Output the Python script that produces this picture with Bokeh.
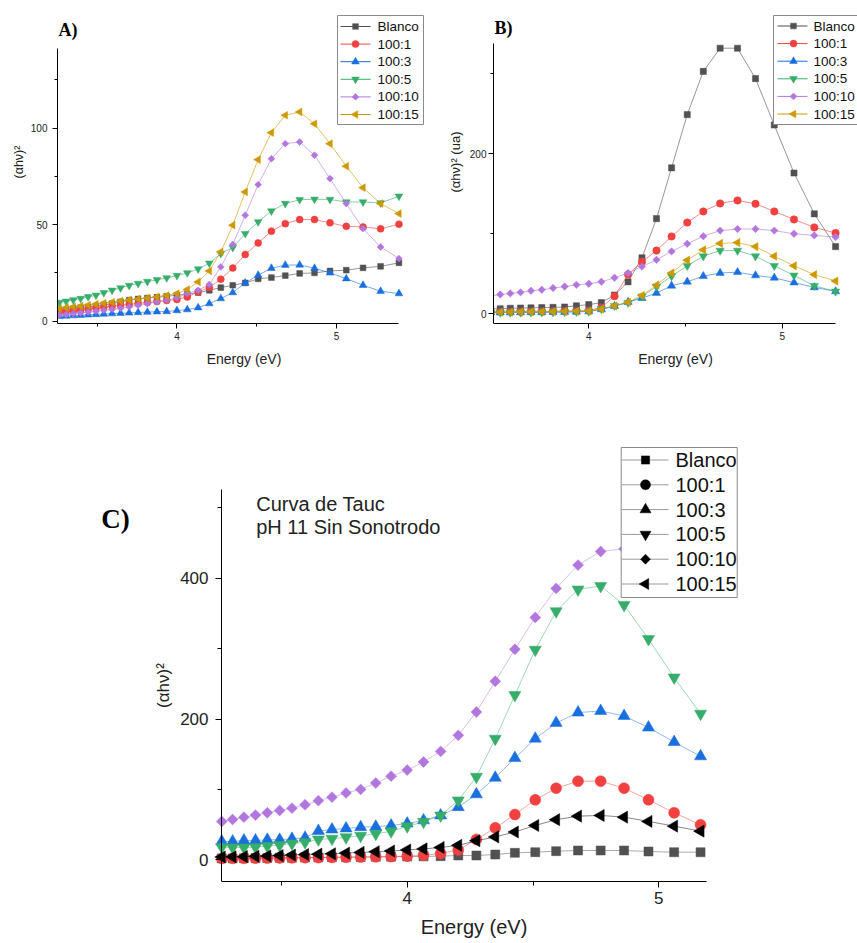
import numpy as np
from bokeh.plotting import figure
from bokeh.models import FixedTicker, Label, Range1d
from bokeh.layouts import column, row
from bokeh.embed import file_html
from bokeh.resources import INLINE
from bokeh.core.properties import value

# Photon energies (eV) of the sampled points, from low to high energy
ENERGY = [3.263, 3.306, 3.351, 3.397, 3.444, 3.493, 3.542, 3.594, 3.647, 3.701,
          3.757, 3.815, 3.875, 3.936, 4.000, 4.065, 4.133, 4.203, 4.275, 4.350,
          4.428, 4.509, 4.592, 4.679, 4.769, 4.862, 4.959, 5.061, 5.166, 5.276, 5.391]

LABELS = ["Blanco", "100:1", "100:3", "100:5", "100:10", "100:15"]

# ---------------- Panel A (31 points) ----------------
A_X = ENERGY
A_BLANCO = [5.7, 6.0, 6.5, 7.0, 7.4, 7.8, 8.4, 9.1, 10.0, 10.9, 11.5, 12.0, 12.4, 12.9, 13.4, 14.0,
            14.8, 16.0, 17.4, 18.6, 19.8, 21.9, 22.6, 23.6, 24.7, 25.0, 26.0, 26.4, 27.6, 28.4, 30.2]
A_1 = [4.5, 5.0, 5.3, 5.7, 6.2, 6.7, 7.2, 7.7, 8.2, 8.7, 9.2, 9.7, 10.2, 10.7, 11.2, 12.5,
       15.2, 17.5, 21.7, 27.5, 34.5, 40.5, 46.6, 50.5, 52.6, 52.6, 50.9, 49.1, 48.8, 47.8, 50.2]
A_3 = [2.5, 2.7, 2.9, 3.1, 3.3, 3.5, 3.7, 3.9, 4.1, 4.3, 4.5, 4.7, 4.9, 5.0, 5.5, 6.0,
       7.0, 9.1, 11.7, 14.8, 19.8, 23.8, 27.4, 29.0, 29.1, 27.4, 25.0, 22.0, 18.6, 15.5, 14.3]
A_5 = [9.7, 10.3, 11.0, 11.7, 12.6, 13.4, 14.7, 16.0, 17.2, 18.5, 19.5, 20.5, 21.4, 22.4, 23.6, 25.0,
       27.0, 30.0, 35.0, 38.1, 45.3, 51.4, 57.0, 60.9, 62.9, 63.1, 63.0, 61.7, 61.7, 61.2, 64.7]
A_10 = [3.2, 3.5, 3.9, 4.3, 4.7, 5.1, 5.6, 6.1, 6.7, 7.4, 8.3, 9.1, 10.0, 10.9, 12.1, 14.3,
        16.0, 19.0, 28.1, 39.7, 54.8, 70.7, 84.1, 91.9, 92.8, 85.9, 73.8, 60.9, 47.9, 38.4, 32.4]
A_15 = [6.5, 7.0, 7.4, 7.8, 8.3, 8.8, 9.3, 9.8, 10.4, 11.0, 11.5, 12.0, 12.6, 13.3, 14.3, 16.4,
        20.3, 26.0, 35.9, 49.7, 66.9, 83.6, 97.6, 106.6, 108.3, 102.2, 91.9, 80.2, 69.1, 60.9, 55.7]

# ---------------- Panel B (25 points) ----------------
B_X = ENERGY[5:30]
B_BLANCO = [6.3, 6.3, 7.0, 7.2, 7.5, 7.8, 8.0, 8.5, 10.0, 11.5, 14.0, 23.5, 40.0, 70.0, 119.0,
            182.5, 249.0, 303.0, 332.0, 332.0, 294.0, 236.0, 176.0, 125.0, 84.0]
B_1 = [2.5, 2.5, 2.7, 2.8, 3.0, 3.0, 3.2, 3.4, 3.6, 4.0, 8.0, 22.0, 49.0, 65.0, 79.0,
       96.7, 114.0, 128.0, 138.0, 141.7, 137.5, 128.0, 118.0, 108.0, 101.0]
B_3 = [1.5, 1.5, 1.6, 1.7, 1.8, 1.9, 2.0, 2.2, 2.5, 3.0, 5.5, 9.5, 14.6, 19.6, 26.0,
       35.0, 40.0, 47.0, 51.0, 52.0, 48.0, 45.0, 39.0, 33.0, 28.0]
B_5 = [1.5, 1.5, 1.6, 1.7, 1.8, 1.9, 2.0, 2.2, 2.5, 3.0, 6.0, 10.0, 13.7, 21.7, 34.0,
       47.0, 60.0, 72.0, 79.0, 79.0, 72.0, 60.0, 48.0, 35.0, 28.0]
B_10 = [22.5, 24.1, 25.5, 26.8, 28.8, 30.0, 32.2, 34.1, 36.2, 37.5, 40.0, 45.0, 51.0, 59.0, 67.5,
        78.0, 87.5, 97.0, 104.0, 106.0, 106.0, 104.0, 100.0, 98.0, 96.0]
B_15 = [2.0, 2.0, 2.0, 2.2, 2.5, 2.5, 2.8, 3.0, 3.2, 3.5, 6.0, 10.0, 14.6, 23.0, 36.0,
        51.0, 67.0, 80.0, 88.0, 89.0, 84.0, 72.0, 60.0, 49.0, 41.0]

# ---------------- Panel C (29 points) ----------------
C_X = ENERGY[0:29]
C_BLANCO = [2.0, 2.0, 2.2, 2.4, 2.6, 2.8, 3.0, 3.2, 3.4, 3.6, 3.8, 4.0, 4.2, 4.4, 4.6, 4.9,
            5.2, 6.1, 6.1, 7.5, 9.9, 10.8, 12.3, 13.2, 13.2, 13.2, 11.8, 10.8, 10.8]
C_1 = [2.0, 2.1, 2.2, 2.3, 2.4, 2.6, 2.8, 3.0, 3.2, 3.4, 3.6, 3.9, 4.2, 4.6, 5.2, 6.5,
       9.0, 14.0, 29.0, 45.4, 64.3, 85.2, 101.7, 111.7, 111.7, 101.7, 85.2, 66.8, 49.7]
C_3 = [26.0, 26.0, 27.5, 27.5, 28.4, 28.4, 29.8, 31.3, 41.0, 43.0, 44.5, 46.4, 47.0, 48.8, 51.5, 56.0,
       63.0, 74.8, 93.0, 116.6, 144.5, 172.1, 194.3, 209.1, 211.4, 204.3, 187.8, 167.3, 147.0]
C_5 = [18.0, 17.5, 17.5, 18.0, 19.5, 21.0, 23.0, 25.0, 29.0, 30.0, 32.0, 34.0, 37.0, 40.5, 47.5, 54.0,
       63.0, 84.4, 118.0, 172.0, 234.0, 298.5, 353.0, 384.0, 389.0, 362.0, 313.5, 259.0, 207.5]
C_10 = [54.5, 57.3, 60.6, 63.5, 66.8, 70.1, 73.4, 78.2, 84.0, 89.0, 95.0, 100.0, 109.0, 118.8, 127.5, 139.0,
        154.0, 176.8, 210.0, 253.6, 299.0, 344.2, 385.5, 418.6, 438.0, 441.6, 425.0, 400.0, 380.0]
C_15 = [4.0, 4.2, 4.5, 5.0, 5.5, 6.0, 6.8, 7.5, 8.0, 8.5, 9.5, 10.5, 11.5, 12.5, 14.0, 15.5,
        17.5, 20.5, 27.0, 32.5, 39.5, 48.8, 57.0, 62.0, 63.0, 60.6, 54.5, 47.8, 40.7]

SANS = "Liberation Sans"
SERIF = "Liberation Serif"
COL_AB = ["#515151", "#F14040", "#1A6FDF", "#37AD6B", "#B177DE", "#CC9900"]
COL_C = ["#515151", "#F14040", "#1A6FDF", "#37AD6B", "#B177DE", "#000000"]
# marker, size factor, angle (diamond = rotated square, left triangle = rotated triangle)
MARKERS = [("square", 0.82, 0.0), ("circle", 1.0, 0.0), ("triangle", 1.1, 0.0),
           ("inverted_triangle", 1.1, 0.0), ("square", 0.7, np.pi / 4), ("triangle", 1.1, np.pi / 2)]


def lin(cal, p):
    """map a page pixel to a data value from two calibration points (v0, p0, v1, p1)"""
    v0, p0, v1, p1 = cal
    return v0 + (p - p0) * (v1 - v0) / (p1 - p0)


class Panel:
    def __init__(self, origin, size, frame, cal_x, cal_y, xbounds, ybounds, fixed_y,
                 xt, xm, yt, ym, tick_fs, xlab_fs, ylab_fs, xlabel, ylabel,
                 tick_out, minor_out, x_std, x_lstd, y_std, y_lstd):
        ox, oy = origin
        w, h = size
        fl, fr, fb, ft = frame  # page pixels of frame left/right/bottom/top
        self.cal_x, self.cal_y = cal_x, cal_y
        self.fl, self.fb = fl, fb
        p = figure(width=w, height=h,
                   x_range=Range1d(lin(cal_x, fl), lin(cal_x, fr)),
                   y_range=Range1d(lin(cal_y, fb), lin(cal_y, ft)),
                   output_backend="svg", toolbar_location=None,
                   min_border_left=int(round(fl - ox)), min_border_right=int(round(ox + w - fr)),
                   min_border_top=int(round(ft - oy)), min_border_bottom=int(round(oy + h - fb)))
        p.outline_line_color = None
        p.grid.visible = False
        p.background_fill_color = "white"
        p.border_fill_color = "white"
        p.xaxis.ticker = FixedTicker(ticks=xt, minor_ticks=xm)
        p.yaxis.ticker = FixedTicker(ticks=yt, minor_ticks=ym)
        p.xaxis.axis_label = xlabel
        p.yaxis.axis_label = ylabel
        p.xaxis.bounds = xbounds
        p.yaxis.bounds = ybounds
        if fixed_y:
            p.yaxis.fixed_location = xbounds[0]
        for ax in (p.xaxis[0], p.yaxis[0]):
            ax.axis_line_color = "black"
            ax.axis_line_width = 1
            ax.major_tick_line_color = "black"
            ax.minor_tick_line_color = "black"
            ax.major_tick_in = 0
            ax.minor_tick_in = 0
            ax.major_tick_out = tick_out
            ax.minor_tick_out = minor_out
            ax.major_label_text_font = SANS
            ax.major_label_text_font_size = tick_fs
            ax.major_label_text_color = "#222222"
            ax.axis_label_text_font = SANS
            ax.axis_label_text_font_style = "normal"
            ax.axis_label_text_color = "#222222"
        p.xaxis.axis_label_text_font_size = xlab_fs
        p.yaxis.axis_label_text_font_size = ylab_fs
        p.xaxis.major_label_standoff = x_std
        p.xaxis.axis_label_standoff = x_lstd
        p.yaxis.major_label_standoff = y_std
        p.yaxis.axis_label_standoff = y_lstd
        self.p = p

    def X(self, px):
        return lin(self.cal_x, px)

    def Y(self, py):
        return lin(self.cal_y, py)

    def series(self, xs, ys_list, colors, base_size, line_alpha):
        for ys, col, (mk, fac, ang) in zip(ys_list, colors, MARKERS):
            self.p.line(xs, ys, line_color=col, line_width=0.8, line_alpha=line_alpha)
            self.p.scatter(xs, ys, marker=mk, size=base_size * fac, angle=ang,
                           fill_color=col, line_color=col, line_width=0.5)

    def legend(self, box, row0, pitch, line_x, mark_x, text_x, line_cols, mark_cols, msize, fs):
        p = self.p
        l, r, t, b = box
        p.quad(left=[self.X(l)], right=[self.X(r)], top=[self.Y(t)], bottom=[self.Y(b)],
               fill_color="white", line_color="#8a8a8a", line_width=1)
        ys = [row0 + i * pitch for i in range(len(LABELS))]
        for i, (mk, fac, ang) in enumerate(MARKERS):
            yy = self.Y(ys[i])
            p.line([self.X(line_x[0]), self.X(line_x[1])], [yy, yy],
                   line_color=line_cols[i], line_width=1)
            p.scatter([self.X(mark_x)], [yy], marker=mk, size=msize * fac, angle=ang,
                      fill_color=mark_cols[i], line_color=mark_cols[i], line_width=0.5)
        p.text(x=[self.X(text_x)] * len(LABELS), y=[self.Y(v) for v in ys], text=LABELS,
               text_font=value(SANS), text_font_size=value(fs), text_baseline="middle",
               text_align="left", text_color="#111111")

    def label(self, px, py, txt, font, size, bold=False, color="#222222"):
        self.p.add_layout(Label(x=px - self.fl, y=self.fb - py, x_units="screen", y_units="screen",
                                text=txt, text_font=font, text_font_size=size,
                                text_font_style="bold" if bold else "normal",
                                text_baseline="middle", text_color=color))


# ---------------- Panel A ----------------
A = Panel(origin=(0, 0), size=(430, 380), frame=(57, 430, 323, 0),
          cal_x=(3.252, 57, 5.39, 398.3), cal_y=(-1.2, 323, 141, 48.3),
          xbounds=(3.252, 5.39), ybounds=(-1.2, 141), fixed_y=False,
          xt=[4, 5], xm=[3.5, 4.5], yt=[0, 50, 100], ym=[25, 75, 125],
          tick_fs="10px", xlab_fs="14px", ylab_fs="12.5px",
          xlabel="Energy (eV)", ylabel="(αhν)²",
          tick_out=5, minor_out=3, x_std=3, x_lstd=8, y_std=5, y_lstd=2)
A.series(A_X, [A_BLANCO, A_1, A_3, A_5, A_10, A_15], COL_AB, 7, 0.75)
A.legend((337, 423, 15, 124), 26, 17.6, (340, 370), 355, 377, COL_AB, COL_AB, 7, "13.5px")
A.label(58, 29.5, "A)", SERIF, "18px", bold=True, color="black")

# ---------------- Panel B ----------------
B = Panel(origin=(430, 0), size=(427, 380), frame=(493, 857, 323, 0),
          cal_x=(4, 588.3, 5, 781.7), cal_y=(0, 313.3, 200, 153.3),
          xbounds=(3.509, 5.276), ybounds=(-12.1, 337.5), fixed_y=False,
          xt=[4, 5], xm=[3.5, 4.5], yt=[0, 200], ym=[100, 300],
          tick_fs="10px", xlab_fs="14px", ylab_fs="13px",
          xlabel="Energy (eV)", ylabel="(αhν)² (ua)",
          tick_out=5, minor_out=3, x_std=3, x_lstd=8, y_std=2, y_lstd=4)
B.series(B_X, [B_BLANCO, B_1, B_3, B_5, B_10, B_15], COL_AB, 7.5, 0.75)
B.legend((773, 866, 15, 124), 25.5, 17.6, (777, 807), 793, 813, COL_AB, COL_AB, 7, "13.5px")
B.label(494, 27.5, "B)", SERIF, "18px", bold=True, color="black")

# ---------------- Panel C ----------------
C = Panel(origin=(0, 380), size=(857, 563), frame=(90, 857, 881, 380),
          cal_x=(4, 406.7, 5, 658.3), cal_y=(0, 859.3, 400, 577.7),
          xbounds=(3.262, 5.19), ybounds=(-30.8, 526), fixed_y=True,
          xt=[4, 5], xm=[3.5, 4.5], yt=[0, 200, 400], ym=[100, 300, 500],
          tick_fs="17px", xlab_fs="20px", ylab_fs="17px",
          xlabel="Energy (eV)", ylabel="(αhν)²",
          tick_out=6, minor_out=4, x_std=4, x_lstd=9, y_std=7, y_lstd=4)
C.series(C_X, [C_BLANCO, C_1, C_3, C_5, C_10, C_15], COL_C, 11, 0.6)
C.legend((620.7, 736.7, 447, 597), 459.5, 24.8, (621, 668), 645, 675,
         ["#9a9a9a"] * 6, ["black"] * 6, 10, "20px")
C.label(100.7, 518, "C)", SERIF, "27px", bold=True, color="black")
C.label(255.7, 503, "Curva de Tauc", SANS, "20px")
C.label(255.7, 526.7, "pH 11 Sin Sonotrodo", SANS, "20px")

layout = column(row(A.p, B.p, spacing=0), C.p, spacing=0)
open("out.html", "w").write(file_html(layout, INLINE))
